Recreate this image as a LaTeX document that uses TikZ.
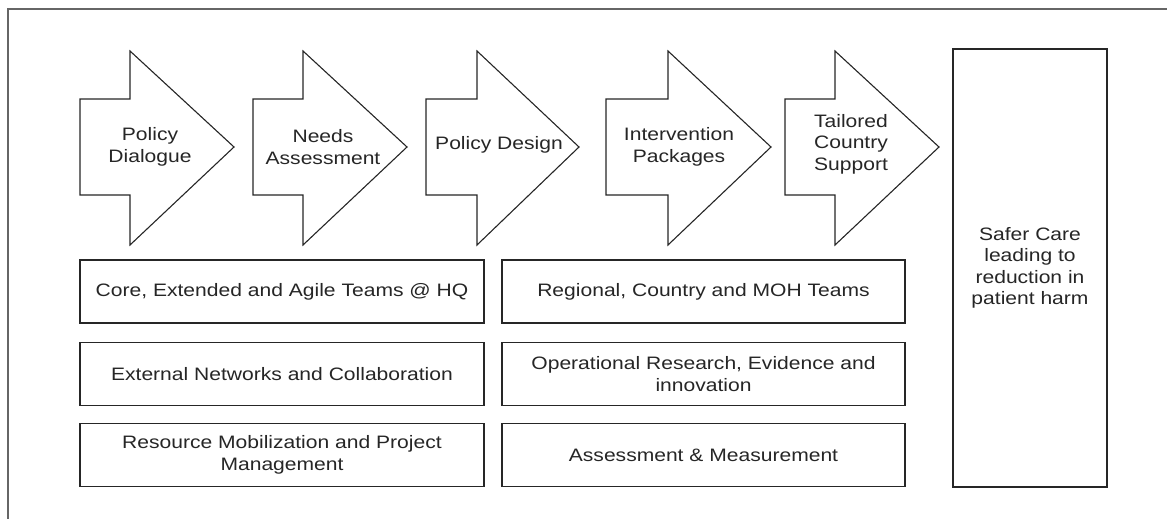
\documentclass[tikz,border=0pt]{standalone}
\usepackage{fontspec}
\setmainfont{Liberation Sans}[FakeStretch=1.17]
\begin{document}
\begin{tikzpicture}[x=1pt,y=-1pt,line join=miter]
\tikzset{
  shp/.style={draw=black!85, line width=1.1pt, fill=white},
  lbl/.style={align=center, font=\fontsize{18}{21.5}\selectfont, text=black!85, inner sep=0pt},
  boxst/.style={shp, lbl, rectangle, minimum width=404pt, minimum height=63pt},
  frm/.style={draw=black!60, line width=1.2pt}
}
\useasboundingbox (0,0) rectangle (1167,519);
% outer frame (cropped at right and bottom)
\draw[frm] (8,519) -- (8,9) -- (1167,9);
% process arrows: left, notch, tip
\foreach \l/\n/\t in {80/130/234, 253/303/407, 426/477/579, 606/668/771, 785/835/939}{
  \draw[shp] (\l,99) -- (\n,99) -- (\n,51) -- (\t,147) -- (\n,245) -- (\n,195) -- (\l,195) -- cycle;
}
\node[lbl] (a1) at (150,147) {Policy\\Dialogue};
\node[lbl] (a2) at (323,147) {Needs\\Assessment};
\node[lbl] (a3) at (499,145) {Policy Design};
\node[lbl] (a4) at (679,147) {Intervention\\Packages};
\node[lbl] (a5) at (851,144) {Tailored\\Country\\Support};
% left column
\node[boxst] (core) at (282,291.5) {Core, Extended and Agile Teams @ HQ};
\node[boxst] (ext) at (282,374) {External Networks and Collaboration};
\node[boxst] (res) at (282,455) {Resource Mobilization and Project\\Management};
% right column
\node[boxst, minimum width=403pt] (reg) at (703.5,291.5) {Regional, Country and MOH Teams};
\node[boxst, minimum width=403pt] (ops) at (703.5,374) {Operational Research, Evidence and\\innovation};
\node[boxst, minimum width=403pt] (asm) at (703.5,455) {Assessment \& Measurement};
% outcome box
\node[shp, lbl, rectangle, minimum width=154pt, minimum height=438pt] (safe) at (1030,268) {Safer Care\\leading to\\reduction in\\patient harm};
\end{tikzpicture}
\end{document}
